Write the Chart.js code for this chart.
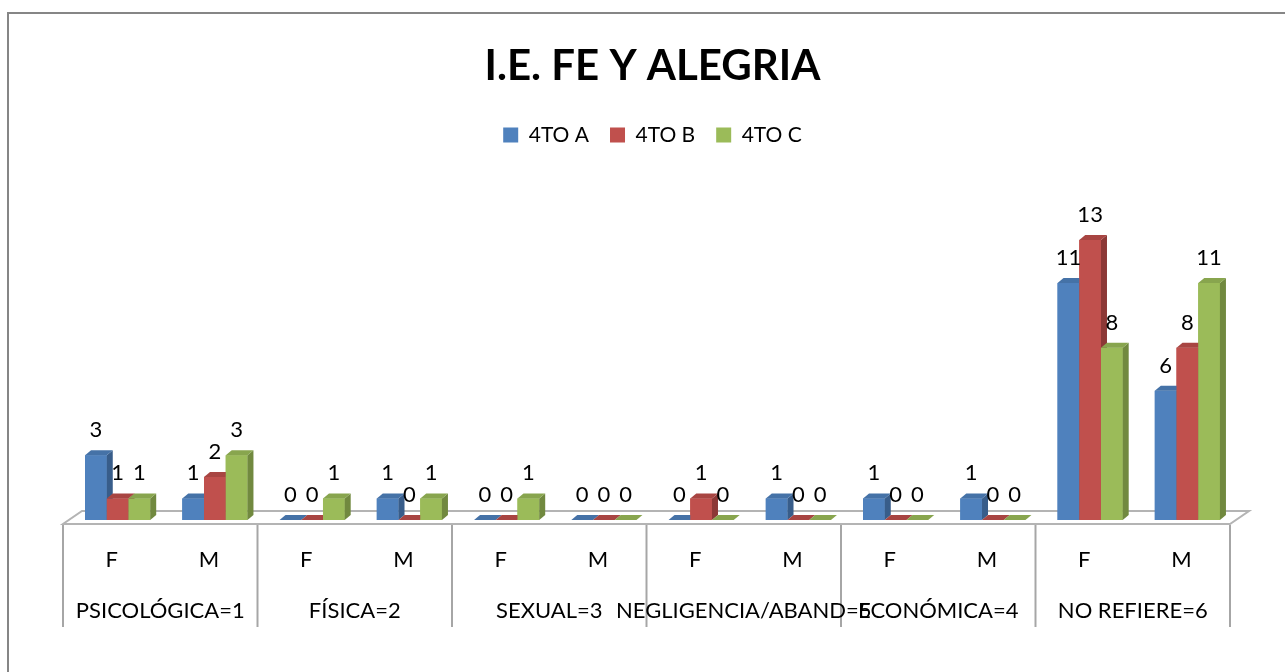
<!DOCTYPE html>
<html>
<head>
<meta charset="utf-8">
<script src="https://cdn.jsdelivr.net/npm/chart.js@4/dist/chart.umd.min.js"></script>
<style>
  body { margin: 0; background: #fff; }
  #wrap { width: 1285px; height: 672px; }
</style>
</head>
<body>
<div id="wrap"><canvas id="grafico" width="1285" height="672"></canvas></div>
<script>
// datos del grafico
const categorias = ['F', 'M', 'F', 'M', 'F', 'M', 'F', 'M', 'F', 'M', 'F', 'M']
const grupos = ['PSICOLÓGICA=1', 'FÍSICA=2', 'SEXUAL=3', 'NEGLIGENCIA/ABAND=5', 'ECONÓMICA=4', 'NO REFIERE=6']
const serieA = [3, 1, 0, 1, 0, 0, 0, 1, 1, 1, 11, 6]
const serieB = [1, 2, 0, 0, 0, 0, 1, 0, 0, 0, 13, 8]
const serieC = [1, 3, 1, 1, 1, 0, 0, 0, 0, 0, 8, 11]
const nombres = ['4TO A', '4TO B', '4TO C']

const FUENTE = 'Lato, "Open Sans", sans-serif'
const colores = ['#4F81BD', '#C0504D', '#9BBB59']
const lados = ['#385D8A', '#8C3836', '#71893F']
const techos = ['#4572A7', '#A84542', '#88A54E']
const DX = 6, DY = 5

// marco, piso y tabla de categorias
const fondo = {
    id: 'fondo',
    beforeDraw(chart) {
        const ctx = chart.ctx
        ctx.save()
        ctx.strokeStyle = '#868686'
        ctx.lineWidth = 2
        ctx.strokeRect(8, 13, 1290, 700)
        ctx.restore()
    },
    beforeDatasetsDraw(chart) {
        const ctx = chart.ctx, a = chart.chartArea
        const izq = a.left - 6, der = a.right - 6
        ctx.save()
        ctx.strokeStyle = '#b4b4b4'
        ctx.lineWidth = 2
        ctx.beginPath()
        ctx.moveTo(izq, a.bottom + 4)
        ctx.lineTo(der, a.bottom + 4)
        ctx.lineTo(der + 19, a.bottom - 9)
        ctx.lineTo(izq + 19, a.bottom - 9)
        ctx.closePath()
        ctx.stroke()
        ctx.restore()
    },
    afterDraw(chart) {
        const ctx = chart.ctx, a = chart.chartArea
        const izq = a.left - 6
        const anchoCat = (a.right - a.left) / categorias.length
        ctx.save()
        ctx.strokeStyle = '#a6a6a6'
        ctx.lineWidth = 2
        for (let i = 0; i <= grupos.length; i++) {
            const x = izq + i * anchoCat * 2
            ctx.beginPath()
            ctx.moveTo(x, a.bottom + 5)
            ctx.lineTo(x, 627)
            ctx.stroke()
        }
        ctx.fillStyle = '#000'
        ctx.textAlign = 'center'
        ctx.textBaseline = 'alphabetic'
        ctx.font = '22px ' + FUENTE
        for (let i = 0; i < categorias.length; i++) {
            ctx.fillText(categorias[i], izq + (i + 0.5) * anchoCat, 567)
        }
        for (let i = 0; i < grupos.length; i++) {
            ctx.fillText(grupos[i], izq + (i + 1) * anchoCat * 2 - anchoCat, 618)
        }
        ctx.restore()
    }
}

// efecto 3D y etiquetas de valor
const barras3d = {
    id: 'barras3d',
    afterDatasetsDraw(chart) {
        const ctx = chart.ctx
        ctx.save()
        for (let j = 0; j < categorias.length; j++) {
            for (let d = 0; d < chart.data.datasets.length; d++) {
                const bar = chart.getDatasetMeta(d).data[j]
                const x0 = bar.x - bar.width / 2, x1 = bar.x + bar.width / 2
                const yt = bar.y, yb = bar.base
                ctx.fillStyle = colores[d]
                ctx.fillRect(x0, yt, x1 - x0, yb - yt)
                ctx.fillStyle = lados[d]
                ctx.beginPath()
                ctx.moveTo(x1, yt); ctx.lineTo(x1 + DX, yt - DY)
                ctx.lineTo(x1 + DX, yb - DY); ctx.lineTo(x1, yb)
                ctx.closePath(); ctx.fill()
                ctx.fillStyle = techos[d]
                ctx.beginPath()
                ctx.moveTo(x0, yt); ctx.lineTo(x0 + DX, yt - DY)
                ctx.lineTo(x1 + DX, yt - DY); ctx.lineTo(x1, yt)
                ctx.closePath(); ctx.fill()
            }
        }
        ctx.fillStyle = '#000'
        ctx.textAlign = 'center'
        ctx.textBaseline = 'alphabetic'
        ctx.font = '22px ' + FUENTE
        chart.data.datasets.forEach(function (ds, d) {
            chart.getDatasetMeta(d).data.forEach(function (bar, j) {
                ctx.fillText(ds.data[j], bar.x, bar.y - 18)
            })
        })
        ctx.restore()
    }
}

// espacio extra bajo la leyenda
const espacioLeyenda = {
    id: 'espacioLeyenda',
    beforeInit(chart) {
        const fit = chart.legend.fit
        chart.legend.fit = function () {
            fit.bind(chart.legend)()
            this.height += 63
        }
    }
}

new Chart(document.getElementById('grafico'), {
    type: 'bar',
    data: {
        labels: categorias,
        datasets: [
            { label: nombres[0], data: serieA, backgroundColor: colores[0] },
            { label: nombres[1], data: serieB, backgroundColor: colores[1] },
            { label: nombres[2], data: serieC, backgroundColor: colores[2] }
        ]
    },
    options: {
        responsive: false,
        animation: false,
        layout: { padding: { left: 69, right: 49, top: 0, bottom: 152 } },
        datasets: { bar: { categoryPercentage: 0.67, barPercentage: 1 } },
        scales: {
            x: { display: false },
            y: { display: false, min: 0, max: 14 }
        },
        plugins: {
            title: {
                display: true,
                text: 'I.E. FE Y ALEGRIA',
                color: '#000',
                font: { family: FUENTE, size: 42, weight: 'bold' },
                padding: { top: 41, bottom: 12 }
            },
            legend: {
                labels: {
                    color: '#000',
                    font: { family: FUENTE, size: 21 },
                    boxWidth: 15,
                    boxHeight: 15,
                    padding: 21
                }
            },
            tooltip: { enabled: false }
        }
    },
    plugins: [espacioLeyenda, fondo, barras3d]
})
</script>
</body>
</html>
